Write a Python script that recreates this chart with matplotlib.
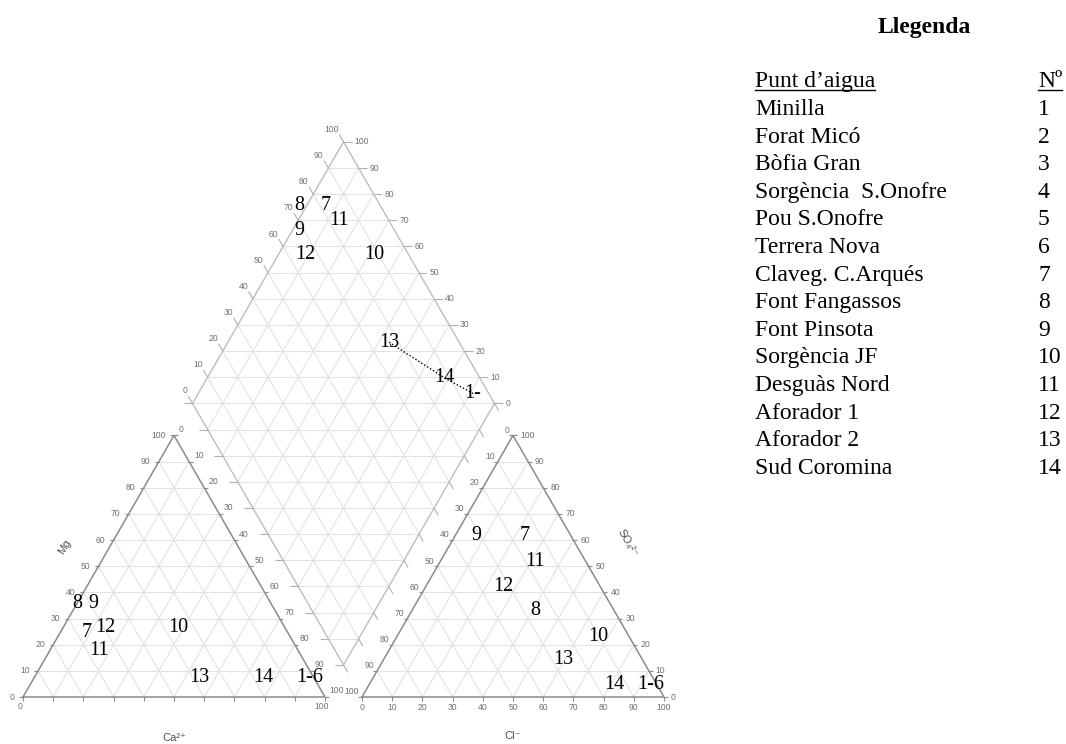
import numpy as np
import matplotlib
matplotlib.use("Agg")
import matplotlib.pyplot as plt
from matplotlib.lines import Line2D

plt.rcParams['font.family'] = ['Liberation Sans', 'DejaVu Sans']

# ---------------- data ----------------
point_labels = ['8', '9', '7', '12', '10', '11', '13', '14', '1-6']
# cation triangle: bottom-axis (Ca) % and Mg %
cat_ca = [0.0, 5.2, 8.9, 14.0, 38.1, 16.4, 54.5, 75.7, 91.2]
cat_mg = [35.9, 35.9, 24.5, 26.4, 26.4, 17.6, 7.6, 7.6, 7.6]
# anion triangle: Cl % and SO4 %
an_cl = [41.0, 6.8, 23.0, 25.8, 66.6, 31.4, 59.3, 81.4, 93.2]
an_so4 = [33.0, 61.9, 61.9, 42.2, 23.3, 51.7, 14.4, 4.6, 4.6]
# diamond: position along the upper-left axis and along the upper-right axis (%)
dia_labels = ['8', '9', '7', '12', '10', '11', '13', '14', '1-']
dia_a = [73.2, 68.6, 82.0, 65.8, 88.8, 83.5, 76.8, 88.3, 94.8]
dia_b = [-2.3, 2.3, 6.2, 8.8, 31.8, 13.4, 53.4, 78.5, 91.0]
# dotted trend line in the diamond (labels joined)
trend_labels = ['13', '14', '1-']

legend_title = 'Llegenda'
legend_header = ['Punt d\u2019aigua', 'N\u00ba']
legend_names = ['Minilla', 'Forat Mic\u00f3', 'B\u00f2fia Gran', 'Sorg\u00e8ncia  S.Onofre',
                'Pou S.Onofre', 'Terrera Nova', 'Claveg. C.Arqu\u00e9s', 'Font Fangassos',
                'Font Pinsota', 'Sorg\u00e8ncia JF', 'Desgu\u00e0s Nord', 'Aforador 1',
                'Aforador 2', 'Sud Coromina']
legend_numbers = [str(i) for i in range(1, 15)]
tick_values = list(range(0, 101, 10))

# ---------------- geometry ----------------
h = np.sqrt(3) / 2
g = 0.1225  # gap between triangles (fraction of side)

def cation(ca, mg):
    return ca / 100 + mg / 200, mg / 100 * h

def anion(cl, so4):
    return 1 + g + cl / 100 + so4 / 200, so4 / 100 * h

Lv = np.array([0.5 + g / 2, h * (1 + g)])
Tv = Lv + np.array([0.5, h])
Rv = Lv + np.array([1.0, 0.0])
Bv = Lv + np.array([0.5, -h])

def diamond(a, b):
    return Lv[0] + 0.5 * (a + b) / 100, Lv[1] + h * (a - b) / 100

W, H = 1066, 744
fig = plt.figure(figsize=(W / 100, H / 100), dpi=100)
ax = fig.add_axes([0, 0, 1, 1])
S = 302.0
ax.set_xlim(-23 / S, (W - 23) / S)
ax.set_ylim((697 - H) / S, 697 / S)
ax.axis('off')

edge_c = '#8a8a8a'
grid_c = '#e2e2e2'
dia_edge_c = '#bdbdbd'
tick_c = '#b0b0b0'
lab_c = '#707070'
tfs = 6.2

def seg(p, q, **kw):
    ax.plot([p[0], q[0]], [p[1], q[1]], solid_capstyle='butt', **kw)

def draw_triangle(BL, BR, AP):
    BL, BR, AP = map(np.array, (BL, BR, AP))
    for k in range(1, 10):
        f = k / 10
        seg(BL + f * (AP - BL), BR + f * (AP - BR), color=grid_c, lw=0.8)
        seg(BL + f * (BR - BL), AP + f * (BR - AP), color=grid_c, lw=0.8)
        seg(BR + f * (BL - BR), AP + f * (BL - AP), color=grid_c, lw=0.8)
    ax.plot([BL[0], BR[0], AP[0], BL[0]], [BL[1], BR[1], AP[1], BL[1]],
            color=edge_c, lw=1.1)

# ---- cation triangle ----
cBL, cBR, cAP = np.array([0.0, 0.0]), np.array([1.0, 0.0]), np.array([0.5, h])
draw_triangle(cBL, cBR, cAP)
tl = 0.012
for v in tick_values:
    f = v / 100
    p = cBL + f * (cAP - cBL)             # Mg axis
    seg(p, p + [-tl, 0], color=edge_c, lw=0.8)
    ax.text(p[0] - 0.027, p[1], str(v), ha='right', va='center', fontsize=tfs, color=lab_c)
    p = cAP + f * (cBR - cAP)             # right axis
    seg(p, p + [tl, 0], color=edge_c, lw=0.8)
    ax.text(p[0] + 0.016, p[1] + 0.02, str(v), ha='left', va='center', fontsize=tfs, color=lab_c)
    p = cBL + f * (cBR - cBL)             # bottom axis
    seg(p, p + [0, -tl], color=edge_c, lw=0.8)
for v in (0, 100):
    p = cBL + v / 100 * (cBR - cBL)
    ax.text(p[0] - 0.01, p[1] - 0.018, str(v), ha='center', va='top', fontsize=tfs, color=lab_c)

# ---- anion triangle ----
aBL, aBR, aAP = np.array([1 + g, 0.0]), np.array([2 + g, 0.0]), np.array([1.5 + g, h])
draw_triangle(aBL, aBR, aAP)
for v in tick_values:
    f = v / 100
    p = aAP + f * (aBL - aAP)             # left axis
    seg(p, p + [-tl, 0], color=edge_c, lw=0.8)
    ax.text(p[0] - 0.01, p[1] + 0.017, str(v), ha='right', va='center', fontsize=tfs, color=lab_c)
    p = aBR + f * (aAP - aBR)             # SO4 axis
    seg(p, p + [tl, 0], color=edge_c, lw=0.8)
    ax.text(p[0] + 0.023, p[1], str(v), ha='left', va='center', fontsize=tfs, color=lab_c)
    p = aBL + f * (aBR - aBL)             # Cl axis
    seg(p, p + [0, -tl], color=edge_c, lw=0.8)
    ax.text(p[0], p[1] - 0.034, str(v), ha='center', va='center', fontsize=tfs, color=lab_c)

# ---- diamond ----
for k in range(1, 10):
    f = k / 10
    seg(Lv + f * (Bv - Lv), Tv + f * (Rv - Tv), color=grid_c, lw=0.8)
    seg(Lv + f * (Tv - Lv), Bv + f * (Rv - Bv), color=grid_c, lw=0.8)
for j in range(1, 20):
    y = Bv[1] + j * h / 10
    half = 0.5 * (min(y - Bv[1], Tv[1] - y) / h)
    seg((Bv[0] - half, y), (Bv[0] + half, y), color=grid_c, lw=0.8)
ax.plot([Lv[0], Tv[0], Rv[0], Bv[0], Lv[0]], [Lv[1], Tv[1], Rv[1], Bv[1], Lv[1]],
        color=dia_edge_c, lw=1.0)
dl = 0.028
up_left = np.array([-0.5, h])
for v in tick_values:
    f = v / 100
    p = Lv + f * (Tv - Lv)
    e = p + dl * up_left
    seg(p, e, color=tick_c, lw=0.8)
    ax.text(e[0] - 0.002, e[1] + 0.002, str(v), ha='right', va='bottom', fontsize=tfs, color=lab_c)
    p = Rv + f * (Tv - Rv)
    e = p + [dl, 0]
    seg(p, e, color=tick_c, lw=0.8)
    ax.text(e[0] + 0.008, e[1], str(v), ha='left', va='center', fontsize=tfs, color=lab_c)
    p = Lv + f * (Bv - Lv)
    seg(p, p + [-dl, 0], color=tick_c, lw=0.8)
    p = Rv + f * (Bv - Rv)
    seg(p, p - dl * up_left, color=tick_c, lw=0.8)

# ---- axis titles ----
tc = '#505050'
ax.text(0.139, 0.497, 'Mg', rotation=60, ha='center', va='center', fontsize=8, color=tc)
ax.text(0.5, -0.135, 'Ca\u00b2\u207a', ha='center', va='center', fontsize=8, color=tc)
ax.text(1.5 + g, -0.128, 'Cl\u207b', ha='center', va='center', fontsize=8, color=tc)
ax.text(2 + g - 0.12, 0.51, 'SO\u2084\u00b2\u207b', rotation=-60, ha='center', va='center',
        fontsize=8, color=tc)

# ---- point labels ----
serif = ['Liberation Serif', 'DejaVu Serif']
lfs = 14.5
for lab, a, m in zip(point_labels, cat_ca, cat_mg):
    x, y = cation(a, m)
    ax.text(x, y, lab, ha='center', va='center', fontsize=lfs, family=serif)
for lab, c, s in zip(point_labels, an_cl, an_so4):
    x, y = anion(c, s)
    ax.text(x, y, lab, ha='center', va='center', fontsize=lfs, family=serif)
dpos = {}
for lab, a, b in zip(dia_labels, dia_a, dia_b):
    x, y = diamond(a, b)
    dpos[lab] = (x, y)
    ax.text(x, y, lab, ha='center', va='center', fontsize=lfs, family=serif)
tx = [dpos[k][0] for k in trend_labels]
ty = [dpos[k][1] for k in trend_labels]
ax.plot(tx, ty, color='black', lw=1.0, ls=(0, (1, 1.5)))

# ---- legend ----
lfs2 = 17
def fx(px):
    return px / W
def fy(py):
    return 1 - py / H
fig.text(fx(924), fy(33), legend_title, ha='center', va='baseline', fontsize=lfs2,
         fontweight='bold', family=serif)
hdr1 = fig.text(fx(755), fy(87), legend_header[0], ha='left', va='baseline', fontsize=lfs2, family=serif)
hdr2 = fig.text(fx(1038), fy(87), legend_header[1], ha='left', va='baseline', fontsize=lfs2, family=serif)
for i, (nm, no) in enumerate(zip(legend_names, legend_numbers)):
    yb = 115 + 27.6 * i
    fig.text(fx(755), fy(yb), nm, ha='left', va='baseline', fontsize=lfs2, family=serif)
    fig.text(fx(1038), fy(yb), no, ha='left', va='baseline', fontsize=lfs2, family=serif)

fig.canvas.draw()
r = fig.canvas.get_renderer()
for t in (hdr1, hdr2):
    bb = t.get_window_extent(r)
    yline = (fy(87) * H - 2.5) / H
    fig.add_artist(Line2D([bb.x0 / W, bb.x1 / W], [yline, yline], color='black', lw=1.0,
                          transform=fig.transFigure))

fig.savefig('out.png', dpi=100)
